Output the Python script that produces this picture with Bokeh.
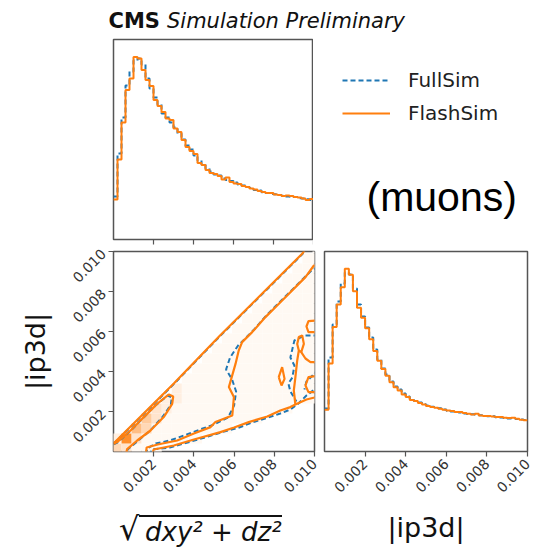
import math
from bokeh.plotting import figure
from bokeh.layouts import column, row
from bokeh.models import (ColumnDataSource, FixedTicker, PrintfTickFormatter, Label, Div,
                          Legend, LegendItem, LinearColorMapper, Range1d, CustomJSTickFormatter)
from bokeh.embed import file_html
from bokeh.resources import INLINE

# ---------------- data ----------------
BIN_W = 0.0002  # histogram bin width (50 bins on 0..0.01)

# top panel: sqrt(dxy^2+dz^2) histogram (arbitrary normalised units)
top_flash = [0.200, 0.400, 0.585, 0.747, 0.805, 0.913, 0.905, 0.847, 0.797, 0.767,
             0.697, 0.667, 0.638, 0.605, 0.597, 0.555, 0.538, 0.497, 0.463, 0.443,
             0.427, 0.383, 0.372, 0.347, 0.333, 0.327, 0.317, 0.300, 0.310, 0.288,
             0.280, 0.277, 0.267, 0.263, 0.255, 0.250, 0.243, 0.238, 0.233, 0.233,
             0.225, 0.222, 0.217, 0.220, 0.217, 0.213, 0.210, 0.205, 0.197, 0.202]
top_full = [0.215, 0.430, 0.610, 0.770, 0.840, 0.895, 0.905, 0.875, 0.805, 0.755,
            0.710, 0.675, 0.630, 0.610, 0.585, 0.560, 0.530, 0.500, 0.470, 0.450,
            0.420, 0.395, 0.375, 0.355, 0.340, 0.325, 0.320, 0.305, 0.298, 0.292,
            0.285, 0.275, 0.270, 0.262, 0.258, 0.248, 0.245, 0.236, 0.232, 0.228,
            0.226, 0.222, 0.219, 0.215, 0.214, 0.212, 0.206, 0.205, 0.201, 0.198]

# right panel: |ip3d| histogram
right_flash = [0.209, 0.440, 0.623, 0.735, 0.821, 0.914, 0.884, 0.801, 0.719, 0.669,
               0.616, 0.561, 0.503, 0.454, 0.412, 0.379, 0.346, 0.321, 0.305, 0.285,
               0.272, 0.258, 0.252, 0.242, 0.235, 0.227, 0.222, 0.219, 0.214, 0.209,
               0.205, 0.202, 0.197, 0.197, 0.192, 0.189, 0.185, 0.189, 0.180, 0.177,
               0.177, 0.175, 0.172, 0.172, 0.169, 0.167, 0.169, 0.164, 0.159, 0.156]
right_full = [0.215, 0.470, 0.635, 0.750, 0.840, 0.895, 0.885, 0.815, 0.735, 0.675,
              0.620, 0.570, 0.510, 0.460, 0.415, 0.385, 0.350, 0.325, 0.310, 0.290,
              0.275, 0.262, 0.253, 0.245, 0.236, 0.230, 0.224, 0.218, 0.216, 0.210,
              0.204, 0.200, 0.198, 0.195, 0.190, 0.187, 0.186, 0.184, 0.181, 0.178,
              0.176, 0.176, 0.171, 0.170, 0.168, 0.165, 0.166, 0.162, 0.160, 0.158]

TICKS = [0.002, 0.004, 0.006, 0.008, 0.010]
SERIES = ["FullSim", "FlashSim"]

# 2D density (levels 0-9), cells of 0.0005 starting at -0.0001; rows bottom -> top
DENS_X0 = -0.0001
DENS_BIN = 0.0005
density_rows = [
    "431110000000000000000",
    "293111111000000000000",
    "006411111111000000000",
    "000531111111111000000",
    "000032111111111111000",
    "000002211111111111111",
    "000000211111111111111",
    "000000011111111111111",
    "000000001111111111111",
    "000000000111111111111",
    "000000000011111111111",
    "000000000001111111111",
    "000000000000111111111",
    "000000000000011111111",
    "000000000000001111111",
    "000000000000000111111",
    "000000000000000011111",
    "000000000000000001111",
    "000000000000000000111",
    "000000000000000000011",
    "000000000000000000001",
]

# contour lines (data coordinates)
flash_cont_xs = [
    [0.0, 0.0001, 0.0012, 0.0030, 0.0053, 0.0075, 0.0094, 0.0096],
    [0.0, 0.00018, 0.00085, 0.00151, 0.00217, 0.00275, 0.00297, 0.00292, 0.0025, 0.00184, 0.00118, 0.00068, 0.0006],
    [0.0102, 0.00997, 0.00955, 0.00839, 0.00756, 0.0069, 0.0064, 0.00623, 0.00607, 0.00574, 0.00599, 0.00591,
     0.00507, 0.00483, 0.0040, 0.00317, 0.0022, 0.00165, 0.0016],
    [0.0019, 0.0020, 0.0030, 0.0040, 0.00532, 0.0060, 0.00673, 0.00765, 0.0083, 0.0088, 0.00905, 0.0096, 0.0100, 0.0102],
    [0.00905, 0.00897, 0.00905, 0.00914, 0.00922, 0.00914, 0.00922, 0.00939, 0.00947, 0.00934, 0.00922],
    [0.00934, 0.00955, 0.0098, 0.0102],
    [0.0102, 0.0097, 0.0096, 0.0097, 0.0102],
    [0.0102, 0.0097, 0.00955, 0.0097, 0.0102],
    [0.00822, 0.00839, 0.00851, 0.00836, 0.00822],
]
flash_cont_ys = [
    [0.00042, 0.0005, 0.0016, 0.0034, 0.0058, 0.0080, 0.0099, 0.0102],
    [0.00038, 0.00047, 0.00105, 0.00172, 0.00238, 0.00285, 0.00275, 0.00238, 0.00172, 0.00105, 0.00055, 0.00012, -0.0002],
    [0.0093, 0.0093, 0.00872, 0.00755, 0.00672, 0.00597, 0.00547, 0.00505, 0.00438, 0.00322, 0.00272, 0.0018,
     0.00147, 0.00122, 0.0009, 0.00055, 0.00035, 0.0002, -0.0002],
    [-0.0002, 0.0001, 0.0003, 0.0006, 0.00097, 0.0012, 0.00147, 0.00175, 0.00205, 0.00222, 0.00235, 0.0026, 0.0027, 0.0028],
    [0.00235, 0.00305, 0.00372, 0.00455, 0.00505, 0.00538, 0.00572, 0.0058, 0.00538, 0.00497, 0.00505],
    [0.00497, 0.00465, 0.00447, 0.00447],
    [0.00655, 0.00652, 0.00625, 0.00597, 0.00597],
    [0.0038, 0.00372, 0.0033, 0.00297, 0.00297],
    [0.00372, 0.00422, 0.00363, 0.0033, 0.00372],
]
full_cont_xs = [
    [0.0, 0.0001, 0.0012, 0.0030, 0.0053, 0.0075, 0.0094, 0.0096],
    [0.0, 0.0002, 0.0009, 0.0015, 0.0021, 0.0027, 0.0029, 0.00285, 0.0024, 0.0018, 0.0012, 0.0007, 0.00062],
    [0.0102, 0.0099, 0.0094, 0.0084, 0.0076, 0.0070, 0.0066, 0.0062, 0.0058, 0.0056, 0.0059, 0.0061, 0.0060,
     0.0057, 0.0050, 0.0043, 0.0035, 0.0028, 0.0021, 0.00168, 0.0016],
    [0.0018, 0.0019, 0.0028, 0.0038, 0.0047, 0.0055, 0.0062, 0.0069, 0.0077, 0.0083, 0.0088, 0.0092, 0.0096, 0.0100, 0.0102],
    [0.0102, 0.0095, 0.0090, 0.0088, 0.0090, 0.0089, 0.0087, 0.0088, 0.0091],
    [0.0102, 0.0099, 0.0096, 0.0095],
]
full_cont_ys = [
    [0.0004, 0.00048, 0.00157, 0.00337, 0.00577, 0.00797, 0.00987, 0.0102],
    [0.00036, 0.00045, 0.00108, 0.0017, 0.00232, 0.0028, 0.0027, 0.00232, 0.00168, 0.00102, 0.00052, 0.0001, -0.0002],
    [0.0092, 0.0091, 0.0086, 0.0076, 0.0068, 0.0061, 0.0057, 0.0053, 0.0047, 0.0041, 0.0036, 0.0030, 0.0023,
     0.0017, 0.00135, 0.0011, 0.0008, 0.00055, 0.0004, 0.00015, -0.0002],
    [-0.0002, 0.0001, 0.0002, 0.00048, 0.00075, 0.001, 0.00118, 0.00145, 0.0017, 0.0019, 0.0021, 0.0024, 0.0028, 0.0031, 0.0033],
    [0.0058, 0.0058, 0.00555, 0.0047, 0.0043, 0.0037, 0.0034, 0.0030, 0.0025],
    [0.0041, 0.0038, 0.0035, 0.0031],
]

# ---------------- style ----------------
ORANGE = "#ff7f0e"
BLUE = "#1f77b4"
FRAME = "#555555"
FONT = "DejaVu Sans"
TXT = "#111111"


def style(p):
    p.grid.visible = False
    p.outline_line_color = FRAME
    p.outline_line_width = 1.5
    p.background_fill_color = "white"
    p.border_fill_color = "white"
    for ax in p.axis:
        ax.axis_line_color = None
        ax.major_tick_line_color = FRAME
        ax.major_tick_line_width = 1.2
        ax.major_tick_out = 5
        ax.major_tick_in = 0
        ax.minor_tick_line_color = None
        ax.ticker = FixedTicker(ticks=TICKS)
        ax.formatter = PrintfTickFormatter(format="%.3f")
        ax.major_label_text_font = FONT
        ax.major_label_text_font_size = "14px"
        ax.major_label_text_color = "#333333"
        ax.axis_label_text_font = FONT
        ax.axis_label_text_font_style = "normal"
        ax.axis_label_text_font_size = "27px"
        ax.axis_label_text_color = TXT


def blank(fw, fh, xr, yr, **borders):
    # empty panel whose ranges equal the page's pixel coordinates (y downwards)
    p = figure(frame_width=fw, frame_height=fh, x_range=Range1d(*xr), y_range=Range1d(*yr),
               x_axis_location=None, y_axis_location=None,
               output_backend="svg", toolbar_location=None, **borders)
    p.grid.visible = False
    p.outline_line_color = None
    p.background_fill_color = "white"
    p.border_fill_color = "white"
    return p


def step_xy(vals):
    xs = [i * BIN_W for i in range(len(vals) + 1)]
    ys = list(vals) + [vals[-1]]
    return xs, ys


# ---------------- header (title) ----------------
p_head = blank(548, 38, (0, 548), (38, 0), min_border=0)
p_head.add_layout(Label(x=108, y=20, text="CMS", text_font=FONT, text_font_style="bold",
                        text_font_size="21px", text_baseline="middle", text_color=TXT))
p_head.add_layout(Label(x=166.5, y=20, text="Simulation Preliminary", text_font=FONT,
                        text_font_style="italic", text_font_size="21px", text_baseline="middle",
                        text_color=TXT))

# ---------------- top histogram ----------------
p_top = figure(frame_width=200, frame_height=200, x_range=Range1d(0, 0.01), y_range=Range1d(0, 1.0),
               min_border_left=113, min_border_right=0, min_border_top=1, min_border_bottom=6,
               output_backend="svg", toolbar_location=None)
style(p_top)
p_top.yaxis.visible = False
p_top.xaxis.formatter = CustomJSTickFormatter(code="return ''")
p_top.xaxis.major_label_standoff = 0

x, y = step_xy(top_full)
p_top.step(x, y, mode="after", line_color=BLUE, line_width=2, line_dash="5 3")
x, y = step_xy(top_flash)
p_top.step(x, y, mode="after", line_color=ORANGE, line_width=2)

# ---------------- side area: legend + (muons) ----------------
# frame aligned with the top histogram frame: page pixels x 313..547, y 39..239
p_side = blank(234, 200, (313, 547), (239, 39), min_border_left=0, min_border_right=0,
               min_border_top=1, min_border_bottom=6)
x, y = step_xy(top_full)
r_full = p_side.step(x, y, mode="after", line_color=BLUE, line_width=2, line_dash="5 3")
x, y = step_xy(top_flash)
r_flash = p_side.step(x, y, mode="after", line_color=ORANGE, line_width=2)
legend = Legend(items=[LegendItem(label=SERIES[0], renderers=[r_full]),
                       LegendItem(label=SERIES[1], renderers=[r_flash])],
                location="top_left", glyph_width=48, glyph_height=20, label_standoff=18,
                spacing=9, padding=0, margin=29, border_line_color=None,
                background_fill_alpha=0, label_text_font=FONT, label_text_font_size="20px",
                label_text_color="#222222", label_height=20)
p_side.add_layout(legend)
p_side.add_layout(Label(x=366, y=196, text="(muons)", text_font="Liberation Sans",
                        text_font_size="41px", text_baseline="middle", text_color="black"))

# ---------------- contour panel ----------------
p_c = figure(frame_width=201, frame_height=200, x_range=Range1d(0, 0.01), y_range=Range1d(0, 0.01),
             min_border_left=113, min_border_right=5, min_border_top=6, min_border_bottom=52,
             output_backend="svg", toolbar_location=None)
style(p_c)
p_c.xaxis.major_label_orientation = math.pi / 4
p_c.yaxis.major_label_orientation = math.pi / 4
p_c.yaxis.axis_label = "|ip3d|"
p_c.yaxis.axis_label_standoff = 14

palette = []
for k in range(256):
    t = (k / 255) ** 1.3
    palette.append("#%02x%02x%02x" % (255, round(255 - t * (255 - 127)), round(255 - t * (255 - 14))))
mapper = LinearColorMapper(palette=palette, low=0, high=10)

cx, cy, cv = [], [], []
for j, rowstr in enumerate(density_rows):
    for i, ch in enumerate(rowstr):
        v = int(ch)
        if v > 0:
            cx.append(DENS_X0 + (i + 0.5) * DENS_BIN)
            cy.append(DENS_X0 + (j + 0.5) * DENS_BIN)
            cv.append(v)
dsrc = ColumnDataSource(dict(x=cx, y=cy, v=cv))
p_c.rect(x="x", y="y", width=DENS_BIN, height=DENS_BIN, source=dsrc,
         fill_color={"field": "v", "transform": mapper}, line_color=None)

p_c.multi_line(xs=full_cont_xs, ys=full_cont_ys, line_color=BLUE, line_width=2, line_dash="5 3")
p_c.multi_line(xs=flash_cont_xs, ys=flash_cont_ys, line_color=ORANGE, line_width=2.2)

# ---------------- footer: x label sqrt(dxy^2 + dz^2) as HTML text ----------------
foot_html = (
    '<div style="position:relative;width:319px;height:49px;overflow:hidden;'
    'font-family:\'DejaVu Sans\';color:#111111;background:white;">'
    '<span style="position:absolute;left:119px;top:8px;font-size:32px;line-height:36px;'
    'white-space:nowrap;">√</span>'
    '<span style="position:absolute;left:139px;top:12px;border-top:2px solid #111111;'
    'padding-left:6px;font-style:italic;font-size:26px;line-height:31px;'
    'white-space:nowrap;">dxy² + dz²</span>'
    '</div>'
)
p_foot = Div(text=foot_html, width=319, height=49, margin=0)

# ---------------- right histogram ----------------
p_r = figure(frame_width=203, frame_height=200, x_range=Range1d(0, 0.01), y_range=Range1d(0, 1.0),
             min_border_left=5, min_border_right=20, min_border_top=6, min_border_bottom=101,
             output_backend="svg", toolbar_location=None)
style(p_r)
p_r.yaxis.visible = False
p_r.xaxis.major_label_orientation = math.pi / 4
p_r.xaxis.axis_label = "|ip3d|"
p_r.xaxis.axis_label_standoff = 12

x, y = step_xy(right_full)
p_r.step(x, y, mode="after", line_color=BLUE, line_width=2, line_dash="5 3")
x, y = step_xy(right_flash)
p_r.step(x, y, mode="after", line_color=ORANGE, line_width=2)

layout = column(
    p_head,
    row(p_top, p_side, spacing=0),
    row(column(p_c, p_foot, spacing=0), p_r, spacing=0),
    spacing=0,
)

with open("out.html", "w") as f:
    f.write(file_html(layout, INLINE))
